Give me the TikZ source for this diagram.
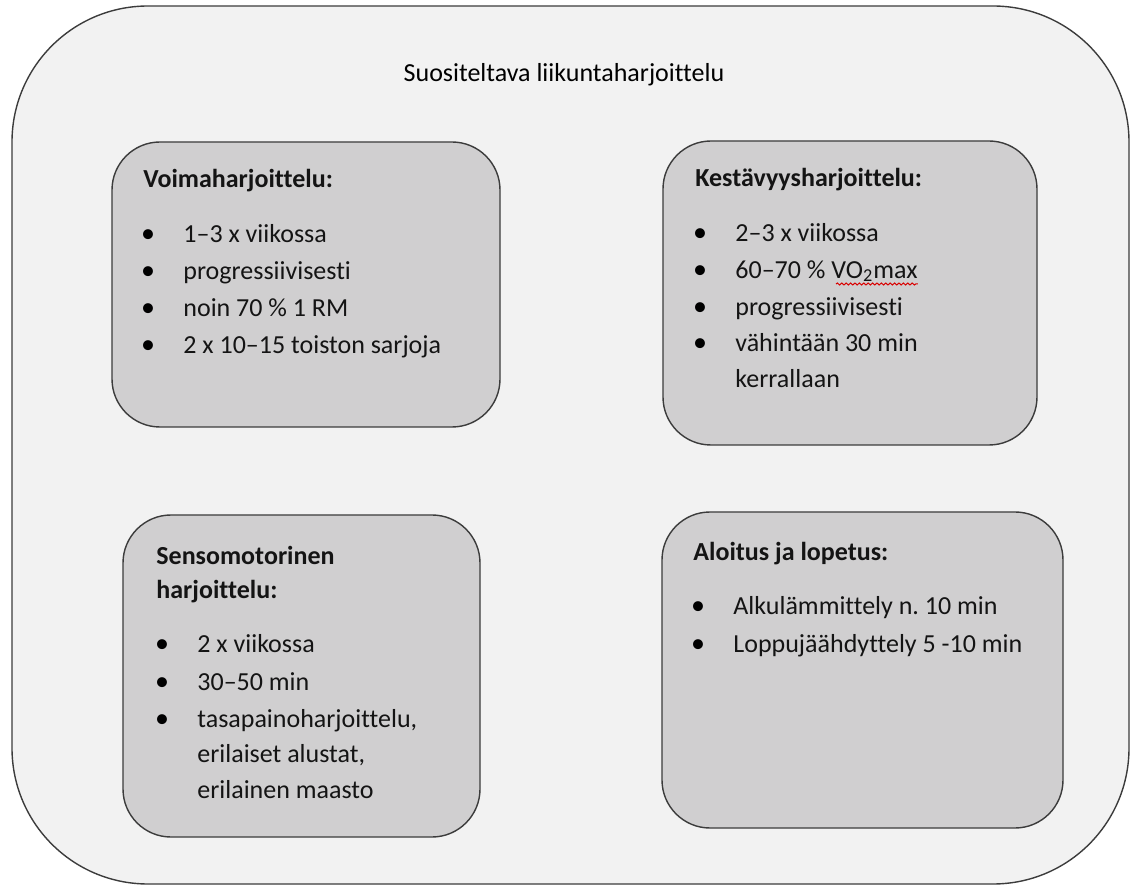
\documentclass[tikz,border=0pt]{standalone}
\usepackage{fontspec}
\setmainfont[Ligatures=NoCommon]{Carlito}
\usetikzlibrary{decorations.pathmorphing}
\usetikzlibrary{positioning}
\frenchspacing

\definecolor{pagegray}{RGB}{242,242,242}
\definecolor{boxgray}{RGB}{208,207,208}
\definecolor{edgegray}{RGB}{60,60,60}
\definecolor{txtgray}{RGB}{20,20,20}

\begin{document}
\begin{tikzpicture}[x=0.5pt, y=-0.5pt,
    outer/.style={draw=edgegray, fill=pagegray, line width=0.7pt, rounded corners=68pt},
    box/.style={draw=edgegray, fill=boxgray, line width=0.7pt, rounded corners=24pt},
    head/.style={anchor=base west, inner sep=0pt, text=txtgray, font=\fontsize{13}{15}\selectfont\bfseries},
    item/.style={anchor=base west, inner sep=0pt, text=txtgray, font=\fontsize{13}{15}\selectfont},
    dot/.style={anchor=base, inner sep=0pt, text=black, font=\fontsize{14}{15}\selectfont}]
        \useasboundingbox (0,0) rectangle (1136,887);

        \draw[outer] (12,6) rectangle (1129,884);
        \node[item, anchor=base, text=black] (title) at (564,82) {Suositeltava liikuntaharjoittelu};

        % four boxes
        \draw[box] (112,142) rectangle (500,427);
        \draw[box] (663,141) rectangle (1037,445);
        \draw[box] (123,515) rectangle (480,837);
        \draw[box] (662,512) rectangle (1063,828);

        % Voimaharjoittelu
        \node[head] (voima) at (143,188) {Voimaharjoittelu:};
        \foreach \txt [count=\i] in {1--3 x viikossa, progressiivisesti, noin 70 \% 1 RM, 2 x 10--15 toiston sarjoja} {
            \node[dot] (vd\i) at (148,206+37*\i) {•};
            \node[item] (vi\i) at (183,206+37*\i) {\txt};
        }

        % Kestavyysharjoittelu
        \node[head] (kesto) at (695,187) {Kestävyysharjoittelu:};
        \foreach \txt [count=\i] in {2--3 x viikossa, 60--70 \% VO\textsubscript{2}max, progressiivisesti, vähintään 30 min} {
            \node[dot] (kd\i) at (700,205+36.7*\i) {•};
            \node[item] (ki\i) at (735,205+36.7*\i) {\txt};
        }
        \node[item] (ki5) at (735,388) {kerrallaan};
        \draw[red!85!black, line width=0.5pt, decorate, decoration={snake, amplitude=0.5pt, segment length=2.2pt}]
            (836,284) -- (ki2.base east |- 0,284);

        % Sensomotorinen harjoittelu
        \node[head] (senso) at (156,565) {Sensomotorinen};
        \node[head] (senso2) at (156,599) {harjoittelu:};
        \foreach \txt [count=\i] in {2 x viikossa, 30--50 min, {tasapainoharjoittelu,}} {
            \node[dot] (sd\i) at (162,616+37*\i) {•};
            \node[item] (si\i) at (197,616+37*\i) {\txt};
        }
        \node[item] (si4) at (197,762) {erilaiset alustat,};
        \node[item] (si5) at (197,798) {erilainen maasto};

        % Aloitus ja lopetus
        \node[head] (alku) at (693,560) {Aloitus ja lopetus:};
        \foreach \txt [count=\i] in {Alkulämmittely n. 10 min, Loppujäähdyttely 5 -10 min} {
            \node[dot] (ad\i) at (698,577+38*\i) {•};
            \node[item] (ai\i) at (733,577+38*\i) {\txt};
        }
\end{tikzpicture}
\end{document}
